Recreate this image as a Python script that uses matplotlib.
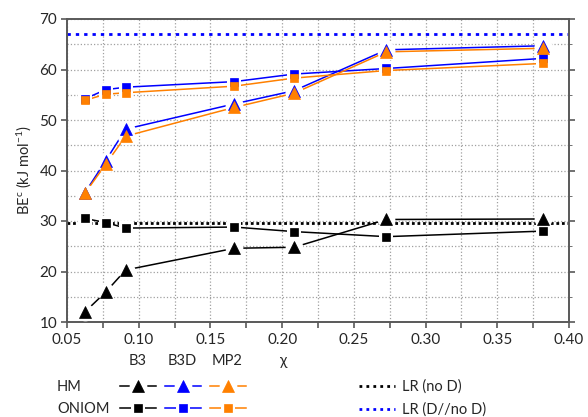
import matplotlib
matplotlib.use('Agg')
import matplotlib.pyplot as plt
from matplotlib.lines import Line2D
from matplotlib.legend_handler import HandlerTuple
from matplotlib.ticker import MultipleLocator

plt.rcParams['font.family'] = ['Lato', 'DejaVu Sans']
plt.rcParams['mathtext.default'] = 'regular'

# data
chi = [0.0625, 0.0769, 0.0909, 0.1667, 0.2083, 0.2727, 0.3818]
hm_b3 = [12.0, 15.9, 20.3, 24.6, 24.8, 30.3, 30.4]
hm_b3d = [35.6, 41.9, 48.2, 53.2, 55.8, 63.9, 64.7]
hm_mp2 = [35.5, 41.2, 46.8, 52.5, 55.3, 63.5, 64.2]
oniom_b3 = [30.5, 29.7, 28.6, 28.8, 27.9, 26.9, 28.0]
oniom_b3d = [54.2, 56.0, 56.5, 57.6, 59.1, 60.2, 62.2]
oniom_mp2 = [53.9, 55.1, 55.4, 56.7, 58.3, 59.8, 61.2]
lr_no_d = 29.6
lr_d_no_d = 67.1

black = 'black'
blue = '#0000ff'
orange = '#ff8000'
spine_col = '#595959'
text_col = '#262626'
tri_ms = 8.5
sq_ms = 5.5
# white patch behind each marker so that lines stop short of it
halo = {'^': ('o', tri_ms * 1.5), 's': ('s', sq_ms + 4.5)}

fig = plt.figure(figsize=(5.88, 4.17), dpi=100)
ax = fig.add_axes([67/588, 1-322/417, 502/588, 303/417])

ax.axhline(lr_no_d, color=black, lw=2.0, ls=(0, (1.0, 1.0)), zorder=2)
ax.axhline(lr_d_no_d, color=blue, lw=2.0, ls=(0, (1.2, 1.8)), zorder=2)

all_series = [(hm_b3, black, '^', tri_ms), (oniom_b3, black, 's', sq_ms),
              (hm_b3d, blue, '^', tri_ms), (oniom_b3d, blue, 's', sq_ms),
              (hm_mp2, orange, '^', tri_ms), (oniom_mp2, orange, 's', sq_ms)]
for i, (y, color, marker, ms) in enumerate(all_series):
    ax.plot(chi, y, color=color, lw=1.1, zorder=3 + i * 0.01)
for i, (y, color, marker, ms) in enumerate(all_series):
    hm, hs = halo[marker]
    ax.plot(chi, y, ls='none', marker=hm, ms=hs, color='white', mew=0, zorder=4 + i * 0.01)
for i, (y, color, marker, ms) in enumerate(all_series):
    ax.plot(chi, y, ls='none', marker=marker, ms=ms, color=color, mec=color, mew=0.5, zorder=5 + i * 0.01)

ax.set_xlim(0.05, 0.40)
ax.set_ylim(10, 70)
ax.xaxis.set_major_locator(MultipleLocator(0.05))
ax.xaxis.set_minor_locator(MultipleLocator(0.025))
ax.yaxis.set_major_locator(MultipleLocator(10))
ax.yaxis.set_minor_locator(MultipleLocator(5))
ax.xaxis.set_major_formatter(plt.FuncFormatter(lambda v, p: f'{v:.2f}'))

ax.grid(True, which='both', color='#a0a0a0', ls=':', lw=0.9, zorder=1)
ax.set_axisbelow(True)
for s in ax.spines.values():
    s.set_color(spine_col)
    s.set_linewidth(1.4)

ax.tick_params(axis='x', which='both', direction='out', length=4, width=1.2,
               color=spine_col, labelsize=11, labelcolor=text_col, pad=4)
ax.tick_params(axis='y', which='major', direction='out', length=4, width=1.2,
               color=spine_col, labelsize=11, labelcolor=text_col, pad=3, right=True)
ax.tick_params(axis='y', which='minor', length=2, left=False, right=True, color=spine_col)

ax.set_ylabel('BE$^{c}$ (kJ mol$^{-1}$)', fontsize=10.5, color=text_col)
ax.yaxis.set_label_coords(-0.068, 0.5)
ax.set_xlabel('χ', fontsize=11, color=text_col)
ax.xaxis.set_label_coords(0.43, -0.105)

# legend block below the axes
for name, xp in [('B3', 138), ('B3D', 182), ('MP2', 227)]:
    fig.text(xp/588, 1-361/417, name, ha='center', va='center', fontsize=10.5, color=text_col)
fig.text(57/588, 1-387/417, 'HM', ha='left', va='center', fontsize=10.5, color=text_col)
fig.text(57/588, 1-409/417, 'ONIOM', ha='left', va='center', fontsize=10.5, color=text_col)

def handle(color, marker, ms):
    hm, hs = halo[marker]
    back = Line2D([], [], color=color, lw=1.1, marker=hm, ms=hs, mfc='white', mec='white', mew=0)
    front = Line2D([], [], ls='none', marker=marker, ms=ms, color=color, mec=color, mew=0.5)
    return (back, front)

handles = [handle(black, '^', tri_ms), handle(black, 's', sq_ms),
           handle(blue, '^', tri_ms), handle(blue, 's', sq_ms),
           handle(orange, '^', tri_ms), handle(orange, 's', sq_ms)]
leg1 = fig.legend(handles, [''] * 6, ncol=3, loc='center', bbox_to_anchor=(183/588, 1-398/417),
                  frameon=False, fontsize=10, handlelength=2.6, handletextpad=0,
                  columnspacing=0.65, labelspacing=0.75, borderpad=0, borderaxespad=0,
                  handler_map={tuple: HandlerTuple(ndivide=1)})

lr_handles = [Line2D([], [], color=black, lw=2.0, ls=(0, (1.0, 1.5))),
              Line2D([], [], color=blue, lw=2.0, ls=(0, (1.0, 1.5)))]
leg2 = fig.legend(lr_handles, ['LR (no D)', 'LR (D//no D)'], loc='center left',
                  bbox_to_anchor=(359/588, 1-398/417), frameon=False, fontsize=10.5,
                  handlelength=2.45, handletextpad=0.5, labelspacing=0.6,
                  borderpad=0, borderaxespad=0, labelcolor=text_col)

fig.savefig('out.png', dpi=100)
